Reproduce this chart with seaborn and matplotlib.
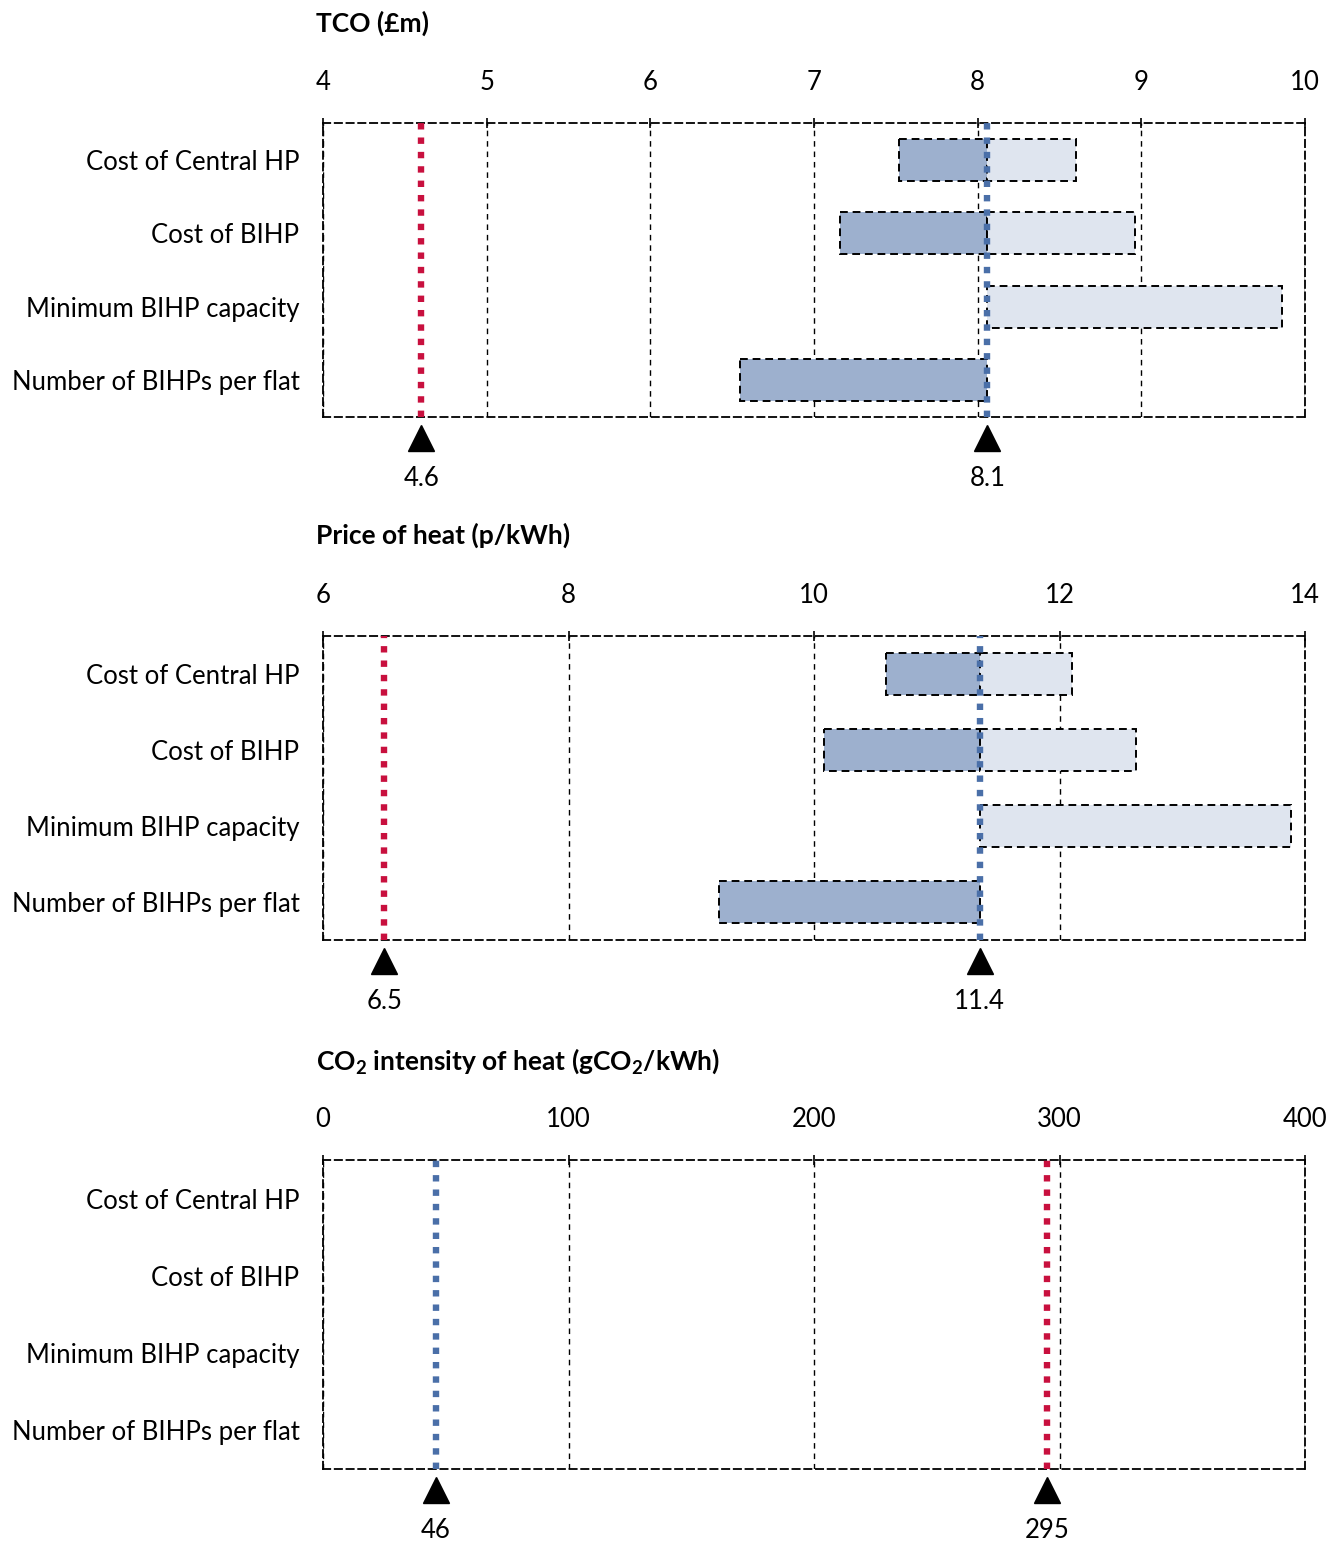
import matplotlib
matplotlib.use("Agg")
import matplotlib.pyplot as plt
import seaborn as sns
from matplotlib import transforms

# ---------------- data ----------------
categories = ["Cost of Central HP", "Cost of BIHP",
              "Minimum BIHP capacity", "Number of BIHPs per flat"]

tco_title = "TCO (£m)"
tco_ticks = [4, 5, 6, 7, 8, 9, 10]
tco_base = 8.06
tco_low = [7.52, 7.16, 8.06, 6.55]
tco_high = [8.60, 8.96, 9.86, 8.06]
tco_red = 4.6
tco_red_label = "4.6"
tco_blue_label = "8.1"

price_title = "Price of heat (p/kWh)"
price_ticks = [6, 8, 10, 12, 14]
price_base = 11.35
price_low = [10.59, 10.08, 11.35, 9.23]
price_high = [12.10, 12.62, 13.89, 11.35]
price_red = 6.5
price_red_label = "6.5"
price_blue_label = "11.4"

co2_title = "CO$_2$ intensity of heat (gCO$_2$/kWh)"
co2_ticks = [0, 100, 200, 300, 400]
co2_blue = 46
co2_red = 295
co2_red_label = "295"
co2_blue_label = "46"

# ---------------- style ----------------
sns.set_theme(style="white")
plt.rcParams["font.family"] = ["Lato", "DejaVu Sans"]
plt.rcParams["mathtext.fontset"] = "custom"
plt.rcParams["mathtext.rm"] = "Lato:bold"
plt.rcParams["mathtext.it"] = "Lato:bold"
plt.rcParams["mathtext.bf"] = "Lato:bold"

DARK = "#9DB0CE"
LIGHT = "#DFE5EF"
BLUE = "#4A6FA8"
RED = "#C8103E"
FS = 18.5
TFS = 19

W, H = 1339, 1543
fig = plt.figure(figsize=(W / 100, H / 100), dpi=100)


def px_axes(left, top, right, bottom):
    return fig.add_axes([left / W, 1 - bottom / H, (right - left) / W, (bottom - top) / H])


def draw_panel(ax, title, title_y, ticks, low, high, base, blue_val, red_val,
               red_label, blue_label):
    ax.set_xlim(ticks[0], ticks[-1])
    ax.set_ylim(len(categories) - 0.5, -0.5)
    ypos = list(range(len(categories)))
    if low is not None:
        for y, lo, hi in zip(ypos, low, high):
            if base - lo > 1e-9:
                ax.barh(y, base - lo, left=lo, height=0.565, color=DARK,
                        edgecolor="black", linestyle=(0, (4, 2.5)), linewidth=1.4, zorder=2)
            if hi - base > 1e-9:
                ax.barh(y, hi - base, left=base, height=0.565, color=LIGHT,
                        edgecolor="black", linestyle=(0, (4, 2.5)), linewidth=1.4, zorder=2)
    ax.set_yticks(ypos)
    ax.set_yticklabels(categories, fontsize=FS)
    ax.set_xticks(ticks)
    ax.set_xticklabels([str(t) for t in ticks], fontsize=FS)
    ax.xaxis.tick_top()
    ax.tick_params(axis="x", top=True, bottom=False, direction="inout", length=7,
                   width=1.2, color="black", pad=17, labelcolor="black")
    ax.tick_params(axis="y", left=False, length=0, pad=17, labelcolor="black")
    ax.grid(axis="x", color="black", linestyle=(0, (4, 3.5)), linewidth=1.0, zorder=0)
    ax.grid(axis="y", visible=False)
    ax.set_axisbelow(True)
    for sp in ax.spines.values():
        sp.set_visible(True)
        sp.set_color("black")
        sp.set_linestyle((0, (4, 2.5)))
        sp.set_linewidth(1.3)
    dots = (0, (1, 1.25))
    ax.axvline(red_val, color=RED, linewidth=4.6, linestyle=dots, zorder=4,
               dash_capstyle="butt")
    ax.axvline(blue_val, color=BLUE, linewidth=4.6, linestyle=dots, zorder=4,
               dash_capstyle="butt")
    blend = transforms.blended_transform_factory(ax.transData, ax.transAxes)
    tri = blend + transforms.ScaledTranslation(0, -0.21, fig.dpi_scale_trans)
    for val, lab in [(red_val, red_label), (blue_val, blue_label)]:
        ax.plot([val], [0], marker="^", markersize=19, color="black",
                transform=tri, clip_on=False, zorder=5)
        ax.annotate(lab, xy=(val, 0), xycoords=blend, xytext=(0, -44),
                    textcoords="offset points", ha="center", va="center",
                    fontsize=FS, color="black")
    fig.text(316 / W, 1 - title_y / H, title, fontsize=TFS, fontweight="bold",
             ha="left", va="center", color="black")


ax1 = px_axes(323, 123, 1305, 417)
draw_panel(ax1, tco_title, 23, tco_ticks, tco_low, tco_high, tco_base,
           tco_base, tco_red, tco_red_label, tco_blue_label)

ax2 = px_axes(323, 636, 1305, 940)
draw_panel(ax2, price_title, 535, price_ticks, price_low, price_high, price_base,
           price_base, price_red, price_red_label, price_blue_label)

ax3 = px_axes(323, 1160, 1305, 1469)
draw_panel(ax3, co2_title, 1061, co2_ticks, None, None, None,
           co2_blue, co2_red, co2_red_label, co2_blue_label)

fig.savefig("out.png", dpi=100, facecolor="white")
